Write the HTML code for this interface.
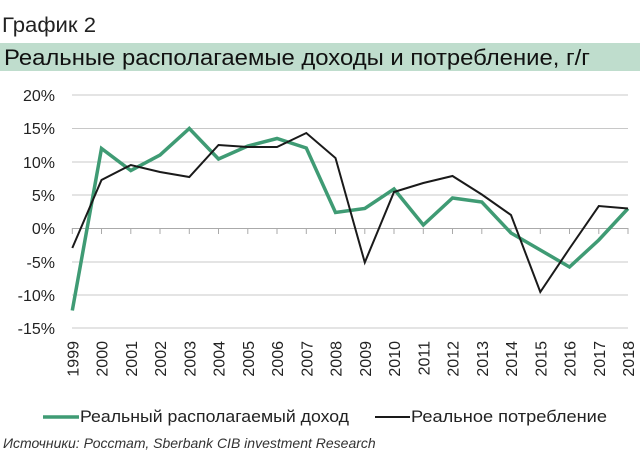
<!DOCTYPE html>
<html><head><meta charset="utf-8"><style>
body{margin:0;width:640px;height:455px;background:#fff;overflow:hidden;font-family:"Liberation Sans",sans-serif}
</style></head><body>
<svg width="640" height="455" xmlns="http://www.w3.org/2000/svg" font-family="Liberation Sans, sans-serif">
<text x="2" y="32" font-size="21" fill="#222" textLength="94" lengthAdjust="spacingAndGlyphs">График 2</text>
<rect x="0" y="43" width="640" height="28" fill="#bfddcd"/>
<text x="4" y="65" font-size="22" fill="#111" textLength="586" lengthAdjust="spacingAndGlyphs">Реальные располагаемые доходы и потребление, г/г</text>
<g stroke="#c8c8c8" stroke-width="1">
<line x1="72" x2="628" y1="95" y2="95"/>
<line x1="72" x2="628" y1="128.5" y2="128.5"/>
<line x1="72" x2="628" y1="162" y2="162"/>
<line x1="72" x2="628" y1="195" y2="195"/>
<line x1="72" x2="628" y1="262" y2="262"/>
<line x1="72" x2="628" y1="295" y2="295"/>
<line x1="72" x2="628" y1="328" y2="328"/>
</g>
<g stroke="#aaa" stroke-width="1">
<line x1="72" x2="628" y1="228.5" y2="228.5"/>
<path d="M72.3 228v6M101.5 228v6M130.8 228v6M160 228v6M189.3 228v6M218.5 228v6M247.8 228v6M277 228v6M306.3 228v6M335.5 228v6M364.8 228v6M394 228v6M423.3 228v6M452.5 228v6M481.8 228v6M511 228v6M540.3 228v6M569.5 228v6M598.8 228v6M628 228v6"/>
</g>
<g font-size="16" fill="#222" text-anchor="end">
<text x="55" y="101">20%</text><text x="55" y="134">15%</text><text x="55" y="168">10%</text><text x="55" y="201">5%</text><text x="55" y="234">0%</text><text x="55" y="268">-5%</text><text x="55" y="301">-10%</text><text x="55" y="334">-15%</text>
</g>
<g font-size="16" fill="#222" text-anchor="end">
<text transform="translate(78.3,341) rotate(-90)">1999</text>
<text transform="translate(107.5,341) rotate(-90)">2000</text>
<text transform="translate(136.8,341) rotate(-90)">2001</text>
<text transform="translate(166,341) rotate(-90)">2002</text>
<text transform="translate(195.3,341) rotate(-90)">2003</text>
<text transform="translate(224.5,341) rotate(-90)">2004</text>
<text transform="translate(253.8,341) rotate(-90)">2005</text>
<text transform="translate(283,341) rotate(-90)">2006</text>
<text transform="translate(312.3,341) rotate(-90)">2007</text>
<text transform="translate(341.5,341) rotate(-90)">2008</text>
<text transform="translate(370.8,341) rotate(-90)">2009</text>
<text transform="translate(400,341) rotate(-90)">2010</text>
<text transform="translate(429.3,341) rotate(-90)">2011</text>
<text transform="translate(458.5,341) rotate(-90)">2012</text>
<text transform="translate(487.8,341) rotate(-90)">2013</text>
<text transform="translate(517,341) rotate(-90)">2014</text>
<text transform="translate(546.3,341) rotate(-90)">2015</text>
<text transform="translate(575.5,341) rotate(-90)">2016</text>
<text transform="translate(604.8,341) rotate(-90)">2017</text>
<text transform="translate(634,341) rotate(-90)">2018</text>
</g>
<polyline fill="none" stroke="#3f9b74" stroke-width="3.5" stroke-linejoin="miter" points="72.3,310.5 101.5,148.5 130.8,170.5 160,155 189.3,128.5 218.5,159 247.8,146 277,138.5 306.3,148 335.5,212.5 364.8,208.5 394,189 423.3,225 452.5,198 481.8,202 511,233 540.3,250 569.5,267 598.8,240 628,208.5"/>
<polyline fill="none" stroke="#1a1a1a" stroke-width="2" points="72.3,248 101.5,180 130.8,165 160,172 189.3,177 218.5,145 247.8,147 277,147 306.3,133 335.5,158 364.8,262.5 394,192 423.3,183 452.5,176 481.8,194.5 511,215 540.3,292 569.5,248.5 598.8,206 628,208.5"/>
<line x1="43" x2="79" y1="417" y2="417" stroke="#3f9b74" stroke-width="3.5"/>
<text x="80" y="422" font-size="17" fill="#222" textLength="269" lengthAdjust="spacingAndGlyphs">Реальный располагаемый доход</text>
<line x1="375" x2="410" y1="417" y2="417" stroke="#1a1a1a" stroke-width="2"/>
<text x="411" y="422" font-size="17" fill="#222" textLength="196" lengthAdjust="spacingAndGlyphs">Реальное потребление</text>
<text x="3" y="448" font-size="14" font-style="italic" fill="#333">Источники: Росстат, Sberbank CIB investment Research</text>
</svg>
</body></html>
